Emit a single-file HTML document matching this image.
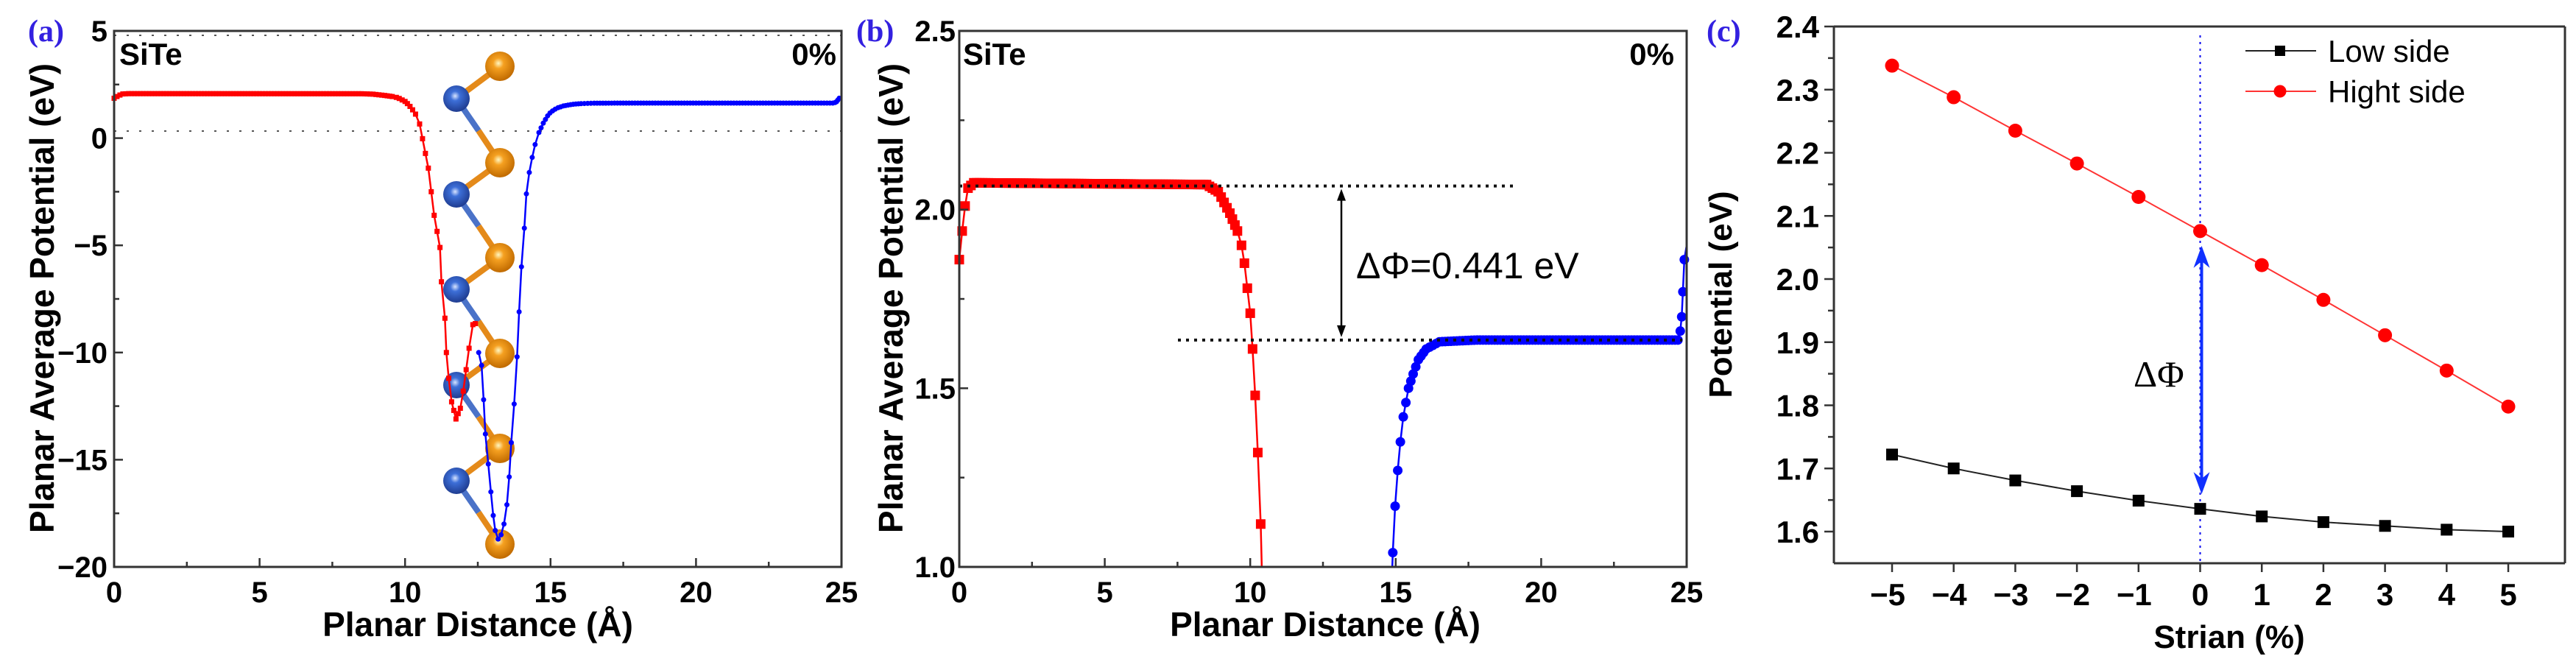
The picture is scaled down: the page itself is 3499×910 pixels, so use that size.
<!DOCTYPE html>
<html><head><meta charset="utf-8"><style>
html,body{margin:0;padding:0;background:#fff;overflow:hidden;}
svg{display:block;font-family:"Liberation Sans",Arial,sans-serif;}
</style></head><body>
<svg id="fig" width="3499" height="910" viewBox="0 0 3499 910" xmlns="http://www.w3.org/2000/svg">
<g id="pa"></g>
<g id="pb"></g>
<g id="pc"></g>
</svg>
<script>
// ---- data ----
const redX = [0,0.1,0.2,0.3,0.5,8.5,8.9,9.3,9.56,9.7,9.8,9.9,10.0,10.08,10.17,10.26,10.36,10.5,10.8,11.0,11.2,11.25,11.37,11.42,11.5,11.6,11.75,11.9,12.0,12.1,12.2,12.33,12.5];
const redY = [1.86,1.94,2.01,2.06,2.075,2.07,2.05,1.99,1.94,1.90,1.85,1.78,1.71,1.61,1.48,1.32,1.12,0.66,-1.4,-3.6,-5.1,-6.7,-8.4,-10,-11.2,-12.3,-13.1,-12.6,-11.8,-10.8,-9.8,-8.7,-8.6];
const blueX = [12.53,12.63,12.7,12.76,12.86,12.95,13.03,13.1,13.2,13.3,13.4,13.5,13.58,13.65,13.75,13.85,13.92,14.0,14.1,14.17,14.27,14.37,14.47,14.6,14.75,14.9,14.98,15.07,15.16,15.26,15.35,15.44,15.6,15.78,16.05,16.5,17.8,24.7,24.78,24.83,24.87,24.92,25];
const blueY = [-10.0,-10.6,-12.2,-13.8,-15.2,-16.5,-17.6,-18.3,-18.7,-18.5,-18.0,-17.1,-15.8,-14.2,-12.4,-10.2,-8.1,-6.0,-4.2,-2.6,-1.6,-0.9,-0.3,0.26,0.7,1.04,1.17,1.27,1.35,1.42,1.46,1.50,1.54,1.58,1.61,1.63,1.635,1.635,1.66,1.70,1.77,1.86,1.9];
const aXTicks = [0,5,10,15,20,25];
const aYTicks = [5,0,-5,-10,-15,-20];
const bXTicks = [0,5,10,15,20,25];
const bYTicks = [2.5,2.0,1.5,1.0];
const bHigh = 2.066, bLow = 1.635;
const strain = [-5,-4,-3,-2,-1,0,1,2,3,4,5];
const highSide = [2.338,2.288,2.235,2.183,2.130,2.076,2.022,1.967,1.911,1.855,1.798];
const lowSide = [1.722,1.700,1.681,1.664,1.649,1.636,1.624,1.615,1.609,1.603,1.600];
const cYTicks = [2.4,2.3,2.2,2.1,2.0,1.9,1.8,1.7,1.6];

const NS="http://www.w3.org/2000/svg";
function mk(parent,tag,attrs,text){const e=document.createElementNS(NS,tag);for(const k in attrs)e.setAttribute(k,attrs[k]);if(text!==undefined)e.textContent=text;parent.appendChild(e);return e;}
function lin(d0,d1,r0,r1){return v=>r0+(v-d0)/(d1-d0)*(r1-r0);}

// split a polyline into runs inside [ymin,ymax], clipping crossing segments
function clipRuns(xs,ys,ymin,ymax){
  const runs=[];let cur=[];
  const inside=y=>y>=ymin&&y<=ymax;
  const cross=(x0,y0,x1,y1,yc)=>[x0+(x1-x0)*(yc-y0)/(y1-y0),yc];
  for(let i=0;i<xs.length;i++){
    const x=xs[i],y=ys[i];
    if(i>0){
      const px=xs[i-1],py=ys[i-1];
      const pin=inside(py),cin=inside(y);
      if(pin&&!cin){cur.push(cross(px,py,x,y,y<ymin?ymin:ymax));runs.push(cur);cur=[];}
      else if(!pin&&cin){cur=[cross(px,py,x,y,py<ymin?ymin:ymax)];}
    }
    if(inside(y))cur.push([x,y]);
  }
  if(cur.length)runs.push(cur);
  return runs;
}

function seriesMarkers(parent,xs,ys,X,Y,color,shape,size,ymin,ymax,name){
  const g=mk(parent,'g',{});
  
  
  clipRuns(xs,ys,ymin,ymax).forEach(run=>{
    const pl=mk(g,'polyline',{points:run.map(p=>X(p[0])+','+Y(p[1])).join(' '),fill:'none',stroke:color,'stroke-width':2.5});
    
    
  });
  for(let i=0;i<xs.length-1;i++){
    const n=Math.max(1,Math.round((xs[i+1]-xs[i])/0.1));
    for(let k=0;k<n;k++){
      const t=k/n, x=xs[i]+(xs[i+1]-xs[i])*t, y=ys[i]+(ys[i+1]-ys[i])*t;
      if(y<ymin||y>ymax) continue;
      const px=X(x),py=Y(y);
      let m;
      if(shape==='sq') m=mk(g,'rect',{x:px-size/2,y:py-size/2,width:size,height:size,fill:color});
      else m=mk(g,'circle',{cx:px,cy:py,r:size/2,fill:color});
      
      
    }
  }
}

function frame(g,L,R,T,B){
  const r=mk(g,'rect',{x:L,y:T,width:R-L,height:B-T,fill:'none',stroke:'#333',"stroke-width":3});
  
  
}

// ---------- Panel A ----------
(function(){
  const g=document.getElementById('pa');
  const L=155,R=1143,T=42,B=770;
  const X=lin(0,25,L,R), Y=lin(5,-20,T,B);
  [48,178].forEach(y=>{const l=mk(g,'line',{x1:L,x2:R,y1:y,y2:y,stroke:'#555','stroke-width':2,'stroke-dasharray':'3,14'});});
  const s=mk(g,'g',{});
  
  
  const oy=[90,221,350,480,609,739], by=[134,264,393,523,653];
  for(let i=0;i<5;i++){
    mk(s,'line',{x1:620,y1:by[i],x2:679,y2:oy[i],stroke:'#e48a1a','stroke-width':8});
    mk(s,'line',{x1:620,y1:by[i],x2:650,y2:(by[i]+oy[i+1])/2,stroke:'#4a72c8','stroke-width':8});
    mk(s,'line',{x1:650,y1:(by[i]+oy[i+1])/2,x2:679,y2:oy[i+1],stroke:'#e48a1a','stroke-width':8});
  }
  const defs=mk(g,'defs',{});
  const go=mk(defs,'radialGradient',{id:'go',cx:'0.45',cy:'0.4',r:'0.6'});
  mk(go,'stop',{offset:'0','stop-color':'#fff6c0'});mk(go,'stop',{offset:'0.3','stop-color':'#f5a020'});mk(go,'stop',{offset:'1','stop-color':'#c06a00'});
  const gb=mk(defs,'radialGradient',{id:'gb',cx:'0.45',cy:'0.4',r:'0.6'});
  mk(gb,'stop',{offset:'0','stop-color':'#d8e4ff'});mk(gb,'stop',{offset:'0.3','stop-color':'#3d6fd8'});mk(gb,'stop',{offset:'1','stop-color':'#1f3c90'});
  oy.forEach(y=>mk(s,'circle',{cx:679,cy:y,r:20,fill:'url(#go)'}));
  by.forEach(y=>mk(s,'circle',{cx:620,cy:y,r:18,fill:'url(#gb)'}));
  seriesMarkers(g,redX,redY,X,Y,'#f00','sq',7,-20,5,'red-series-a');
  seriesMarkers(g,blueX,blueY,X,Y,'#00f','ci',7,-20,5,'blue-series-a');
  frame(g,L,R,T,B);
  for(let v=0;v<=25;v+=2.5){const x=X(v),len=(v%5===0)?12:7;mk(g,'line',{x1:x,x2:x,y1:B,y2:B-len,stroke:'#333','stroke-width':2.5});}
  for(let v=-20;v<=5;v+=2.5){const y=Y(v),len=(v%5===0)?12:7;mk(g,'line',{x1:L,x2:L+len,y1:y,y2:y,stroke:'#333','stroke-width':2.5});}
  aXTicks.forEach(v=>{const t=mk(g,'text',{x:X(v),y:818,'font-size':40,'font-weight':'bold','text-anchor':'middle'},String(v));});
  aYTicks.forEach(v=>{const t=mk(g,'text',{x:146,y:Y(v)+14,'font-size':40,'font-weight':'bold','text-anchor':'end'},String(v).replace('-','\u2212'));});
  const xt=mk(g,'text',{x:649,y:864,'font-size':46,'font-weight':'bold','text-anchor':'middle'},'Planar Distance (Å)');
  const yt=mk(g,'text',{x:0,y:0,'font-size':46,'font-weight':'bold','text-anchor':'middle',transform:'translate(73,405) rotate(-90)'},'Planar Average Potential (eV)');
  const s1=mk(g,'text',{x:162,y:88,'font-size':42,'font-weight':'bold'},'SiTe');
  const s2=mk(g,'text',{x:1136,y:88,'font-size':42,'font-weight':'bold','text-anchor':'end'},'0%');
  const pl=mk(g,'text',{x:38,y:56,'font-size':42,'font-weight':'bold','fill':'#3320e0','font-family':'Liberation Serif, serif'},'(a)');
})();

// ---------- Panel B ----------
(function(){
  const g=document.getElementById('pb');
  const L=1303,R=2291,T=42,B=770;
  const X=lin(0,25,L,R), Y=lin(2.5,1.0,T,B);
  seriesMarkers(g,redX,redY,X,Y,'#f00','sq',13,1.0,2.5,'red-series-b');
  seriesMarkers(g,blueX,blueY,X,Y,'#00f','ci',13,1.0,2.5,'blue-series-b');
  let l=mk(g,'line',{x1:L,x2:2058,y1:Y(bHigh),y2:Y(bHigh),stroke:'#111','stroke-width':4,'stroke-dasharray':'4,7'});
  l=mk(g,'line',{x1:1600,x2:2285,y1:Y(bLow),y2:Y(bLow),stroke:'#111','stroke-width':4,'stroke-dasharray':'4,7'});
  const ax=1822,y1=Y(bHigh)+4,y2=Y(bLow)-4;
  const ar=mk(g,'g',{});
  mk(ar,'line',{x1:ax,x2:ax,y1:y1+8,y2:y2-8,stroke:'#000','stroke-width':2.5});
  mk(ar,'path',{d:`M${ax},${y1} l-6,16 l12,0 z M${ax},${y2} l-6,-16 l12,0 z`,fill:'#000'});
  const dt=mk(g,'text',{x:1842,y:378,'font-size':50},'ΔΦ=0.441 eV');
  frame(g,L,R,T,B);
  for(let v=0;v<=25;v+=2.5){const x=X(v),len=(v%5===0)?12:7;mk(g,'line',{x1:x,x2:x,y1:B,y2:B-len,stroke:'#333','stroke-width':2.5});}
  for(let v=1.0;v<=2.5001;v+=0.25){const y=Y(v),len=(Math.abs(v*2-Math.round(v*2))<1e-6)?12:7;mk(g,'line',{x1:L,x2:L+len,y1:y,y2:y,stroke:'#333','stroke-width':2.5});}
  bXTicks.forEach(v=>{const t=mk(g,'text',{x:X(v),y:818,'font-size':40,'font-weight':'bold','text-anchor':'middle'},String(v));});
  bYTicks.forEach(v=>{const t=mk(g,'text',{x:1298,y:Y(v)+14,'font-size':40,'font-weight':'bold','text-anchor':'end'},v.toFixed(1));});
  const xt=mk(g,'text',{x:1800,y:864,'font-size':46,'font-weight':'bold','text-anchor':'middle'},'Planar Distance (Å)');
  const yt=mk(g,'text',{x:0,y:0,'font-size':46,'font-weight':'bold','text-anchor':'middle',transform:'translate(1226,405) rotate(-90)'},'Planar Average Potential (eV)');
  const s1=mk(g,'text',{x:1308,y:88,'font-size':42,'font-weight':'bold'},'SiTe');
  const s2=mk(g,'text',{x:2274,y:88,'font-size':42,'font-weight':'bold','text-anchor':'end'},'0%');
  const pl=mk(g,'text',{x:1163,y:56,'font-size':42,'font-weight':'bold','fill':'#3320e0','font-family':'Liberation Serif, serif'},'(b)');
})();

// ---------- Panel C ----------
(function(){
  const g=document.getElementById('pc');
  const L=2491,R=3484,T=36,B=765;
  const X=lin(-5,5,2570,3407), Y=lin(2.4,1.6,36,722);
  let vl=mk(g,'line',{x1:X(0),x2:X(0),y1:T+12,y2:B,stroke:'#0000ee','stroke-width':2,'stroke-dasharray':'3,6'});
  const mkLine=(ys,color,name)=>{const p=mk(g,'polyline',{points:strain.map((s,i)=>X(s)+','+Y(ys[i])).join(' '),fill:'none',stroke:color,'stroke-width':2});};
  mkLine(lowSide,'#222','low-side-line');
  mkLine(highSide,'#f33','high-side-line');
  strain.forEach((s,i)=>{const m=mk(g,'rect',{x:X(s)-8,y:Y(lowSide[i])-8,width:16,height:16,fill:'#000'});});
  strain.forEach((s,i)=>{const m=mk(g,'circle',{cx:X(s),cy:Y(highSide[i]),r:9.5,fill:'#f00'});});
  const ax=X(0)+2,y1=Y(highSide[5])+20,y2=Y(lowSide[5])-20;
  const ar=mk(g,'g',{});
  mk(ar,'line',{x1:ax,x2:ax,y1:y1+10,y2:y2-10,stroke:'#1030ff','stroke-width':4});
  mk(ar,'path',{d:`M${ax},${y1} l-11,30 l11,-9 l11,9 z M${ax},${y2} l-11,-30 l11,9 l11,-9 z`,fill:'#1030ff'});
  const dt=mk(g,'text',{x:2898,y:525,'font-size':50,'font-family':'Liberation Serif, serif'},'ΔΦ');
  let a=mk(g,'line',{x1:L,x2:L,y1:T,y2:B,stroke:'#333','stroke-width':3});
  a=mk(g,'line',{x1:L,x2:R,y1:B,y2:B,stroke:'#333','stroke-width':3});
  mk(g,'line',{x1:L,x2:R,y1:T,y2:T,stroke:'#333','stroke-width':3});
  mk(g,'line',{x1:R,x2:R,y1:T,y2:B,stroke:'#333','stroke-width':3});
  strain.forEach(s=>mk(g,'line',{x1:X(s),x2:X(s),y1:B,y2:B+12,stroke:'#333','stroke-width':2.5}));
  for(let k=0;k<=16;k++){const v=1.6+k*0.05,y=Y(v);mk(g,'line',{x1:L,x2:L-(k%2===0?13:8),y1:y,y2:y,stroke:'#333','stroke-width':2.5});}
  strain.forEach(s=>{const t=mk(g,'text',{x:X(s)-(s<0?6:0),y:822,'font-size':42,'font-weight':'bold','text-anchor':'middle'},String(s).replace('-','\u2212'));});
  cYTicks.forEach(v=>{const t=mk(g,'text',{x:2471,y:Y(v)+15,'font-size':42,'font-weight':'bold','text-anchor':'end'},v.toFixed(1));});
  const xt=mk(g,'text',{x:3028,y:880,'font-size':44,'font-weight':'bold','text-anchor':'middle'},'Strian (%)');
  const yt=mk(g,'text',{x:0,y:0,'font-size':44,'font-weight':'bold','text-anchor':'middle',transform:'translate(2352,400) rotate(-90)'},'Potential (eV)');
  const lg=mk(g,'g',{});
  const e1=mk(lg,'g',{});
  mk(e1,'line',{x1:3050,x2:3146,y1:69,y2:69,stroke:'#222','stroke-width':2});
  mk(e1,'rect',{x:3090,y:62,width:14,height:14,fill:'#000'});
  mk(e1,'text',{x:3162,y:84,'font-size':42},'Low side');
  const e2=mk(lg,'g',{});
  mk(e2,'line',{x1:3050,x2:3146,y1:124,y2:124,stroke:'#f33','stroke-width':2});
  mk(e2,'circle',{cx:3097,cy:124,r:8.5,fill:'#f00'});
  mk(e2,'text',{x:3162,y:139,'font-size':42},'Hight side');
  const pl=mk(g,'text',{x:2318,y:56,'font-size':42,'font-weight':'bold','fill':'#3320e0','font-family':'Liberation Serif, serif'},'(c)');
})();
</script>
</body></html>
